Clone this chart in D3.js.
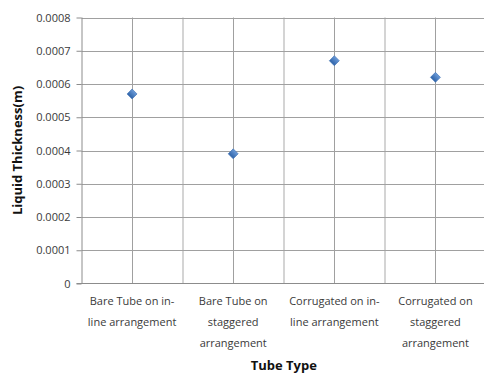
<!DOCTYPE html>
<html>
<head>
<meta charset="utf-8">
<script src="https://cdn.jsdelivr.net/npm/d3@7"></script>
<style>
  html, body { margin: 0; padding: 0; background: #fff; }
  svg { display: block; font-family: "Open Sans", "Noto Sans", sans-serif; }
</style>
</head>
<body>
<svg id="chart" width="484" height="374"></svg>
<script>
// Tube configurations and measured liquid film thickness
const categories = [
  ["Bare Tube on in-", "line arrangement"],
  ["Bare Tube on", "staggered", "arrangement"],
  ["Corrugated on in-", "line arrangement"],
  ["Corrugated on", "staggered", "arrangement"]
];
const thickness = [0.00057, 0.00039, 0.00067, 0.00062];
const yTicks = [0, 0.0001, 0.0002, 0.0003, 0.0004, 0.0005, 0.0006, 0.0007, 0.0008];
const yTickLabels = ["0", "0.0001", "0.0002", "0.0003", "0.0004", "0.0005", "0.0006", "0.0007", "0.0008"];

const svg = d3.select("#chart");
const margin = { left: 81.5, top: 17.5, right: 486, bottom: 283.5 };

const x = d3.scaleBand()
  .domain(d3.range(categories.length))
  .range([margin.left, margin.right])
  .paddingInner(0).paddingOuter(0);

const y = d3.scaleLinear()
  .domain([0, 0.0008])
  .range([margin.bottom, margin.top]);

// Light separators between categories
svg.append("g")
  .selectAll("line")
  .data(d3.range(1, categories.length + 1))
  .join("line")
  .attr("x1", i => Math.round(x(0) + i * x.bandwidth()))
  .attr("x2", i => Math.round(x(0) + i * x.bandwidth()))
  .attr("y1", margin.top)
  .attr("y2", margin.bottom)
  .attr("stroke", "#d4d4d4")
  .attr("stroke-width", 2);

// Horizontal gridlines
svg.append("g")
  .selectAll("line")
  .data(yTicks.slice(1))
  .join("line")
  .attr("x1", margin.left)
  .attr("x2", margin.right)
  .attr("y1", d => Math.round(y(d)) + 0.5)
  .attr("y2", d => Math.round(y(d)) + 0.5)
  .attr("stroke", "#a0a0a0")
  .attr("stroke-width", 1);

// Vertical gridlines through each category
svg.append("g")
  .selectAll("line")
  .data(d3.range(categories.length))
  .join("line")
  .attr("x1", i => Math.round(x(i) + x.bandwidth() / 2) + 0.5)
  .attr("x2", i => Math.round(x(i) + x.bandwidth() / 2) + 0.5)
  .attr("y1", margin.top)
  .attr("y2", margin.bottom)
  .attr("stroke", "#a0a0a0")
  .attr("stroke-width", 1);

// Y axis
const yAxis = d3.axisLeft(y)
  .tickValues(yTicks)
  .tickFormat((d, i) => yTickLabels[i])
  .tickSize(5)
  .tickPadding(6);

const gy = svg.append("g")
  .attr("transform", `translate(${margin.left},0)`)
  .call(yAxis);
gy.select(".domain").attr("stroke", "#8c8c8c").attr("d", `M0.5,${margin.top}V${margin.bottom}`);
gy.selectAll(".tick line").attr("stroke", "#8c8c8c");
gy.selectAll(".tick text")
  .attr("fill", "#3a3a3a")
  .style("font-size", "11px")
  .style("font-family", "\"Open Sans\", \"Noto Sans\", sans-serif");

// X axis baseline
svg.append("line")
  .attr("x1", margin.left - 5)
  .attr("x2", margin.right)
  .attr("y1", margin.bottom)
  .attr("y2", margin.bottom)
  .attr("stroke", "#8c8c8c");

// Category labels
const lab = svg.append("g")
  .selectAll("text")
  .data(categories)
  .join("text")
  .attr("text-anchor", "middle")
  .attr("fill", "#3a3a3a")
  .style("font-size", "11px")
  .attr("transform", (d, i) => `translate(${x(i) + x.bandwidth() / 2},${margin.bottom + 21})`);
lab.selectAll("tspan")
  .data(d => d)
  .join("tspan")
  .attr("x", 0)
  .attr("dy", (d, j) => j === 0 ? 0 : 21)
  .text(d => d);

// Diamond markers
const grad = svg.append("defs").append("linearGradient")
  .attr("id", "mk").attr("x1", "0").attr("y1", "0").attr("x2", "0").attr("y2", "1");
grad.append("stop").attr("offset", "0%").attr("stop-color", "#6a9ad8");
grad.append("stop").attr("offset", "100%").attr("stop-color", "#2f63a8");

svg.append("g")
  .selectAll("path")
  .data(thickness)
  .join("path")
  .attr("d", d3.symbol(d3.symbolSquare, 50))
  .attr("transform", (d, i) => `translate(${x(i) + x.bandwidth() / 2},${y(d)}) rotate(45)`)
  .attr("fill", "url(#mk)")
  .attr("stroke", "#3f72b5")
  .attr("stroke-width", 0.6);

// Axis titles
svg.append("text")
  .attr("x", (margin.left + margin.right) / 2)
  .attr("y", 370)
  .attr("text-anchor", "middle")
  .attr("fill", "#111")
  .style("font-size", "13px")
  .style("font-weight", "bold")
  .text("Tube Type");

svg.append("text")
  .attr("transform", `translate(22,${(margin.top + margin.bottom) / 2}) rotate(-90)`)
  .attr("text-anchor", "middle")
  .attr("fill", "#111")
  .style("font-size", "13px")
  .style("font-weight", "bold")
  .text("Liquid Thickness(m)");
</script>
</body>
</html>
